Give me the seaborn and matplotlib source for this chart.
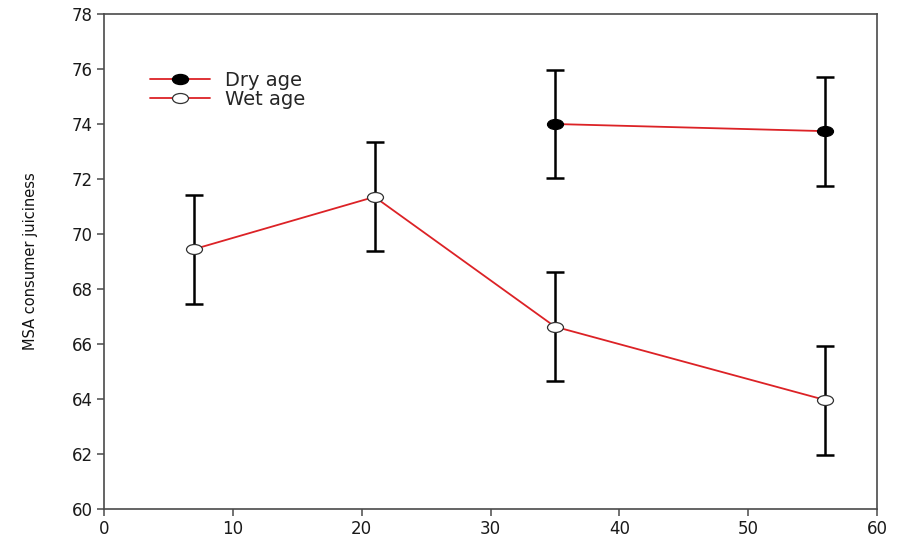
import numpy as np
import pandas as pd
import matplotlib
matplotlib.use("Agg")
import matplotlib.pyplot as plt
from matplotlib.lines import Line2D
from matplotlib.path import Path
from matplotlib.transforms import Affine2D
import seaborn as sns

# Ageing time (days) and MSA consumer juiciness scores (mean and SE)
wet_days = [7, 21, 35, 56]
wet_mean = [69.45, 71.35, 66.63, 63.96]
wet_err = [1.98, 1.98, 1.99, 1.98]

dry_days = [35, 56]
dry_mean = [74.0, 73.74]
dry_err = [1.98, 1.98]

x_ticks = [0, 10, 20, 30, 40, 50, 60]
y_ticks = [60, 62, 64, 66, 68, 70, 72, 74, 76, 78]

wet = pd.DataFrame({"day": wet_days, "juiciness": wet_mean, "se": wet_err})
dry = pd.DataFrame({"day": dry_days, "juiciness": dry_mean, "se": dry_err})

sns.set_theme(style="ticks")
plt.rcParams["font.family"] = ["DejaVu Sans"]

line_red = "#dc2226"
spine_col = "#4a4a4a"
msize = 11.5

# wide oval symbol
oval = Path.unit_circle().transformed(Affine2D().scale(1.6, 1.0))

fig = plt.figure(figsize=(9.03, 5.39), dpi=100)
ax = fig.add_axes([0.1152, 0.0557, 0.856, 0.9183])

# error bars under the markers
for d in (wet, dry):
    ax.errorbar(d["day"], d["juiciness"], yerr=d["se"], fmt="none",
                ecolor="black", elinewidth=1.8, capsize=6.5, capthick=1.8,
                zorder=2)

sns.lineplot(data=wet, x="day", y="juiciness", ax=ax, color=line_red,
             linewidth=1.3, marker=oval, markersize=msize,
             markerfacecolor="white", markeredgecolor="#333333",
             markeredgewidth=0.9, zorder=3)
sns.lineplot(data=dry, x="day", y="juiciness", ax=ax, color=line_red,
             linewidth=1.3, marker=oval, markersize=msize,
             markerfacecolor="black", markeredgecolor="black",
             markeredgewidth=0.9, zorder=3)

ax.set_xlim(0, 60)
ax.set_ylim(60, 78)
ax.set_xticks(x_ticks)
ax.set_yticks(y_ticks)
ax.set_xlabel("")
ax.set_ylabel("MSA consumer juiciness", fontsize=10.5, color="#111111")
ax.yaxis.set_label_coords(-0.085, 0.5)

ax.tick_params(axis="both", direction="out", length=5, width=1.1,
               color=spine_col, labelsize=12, labelcolor="#1a1a1a", pad=3)
for s in ax.spines.values():
    s.set_visible(True)
    s.set_color(spine_col)
    s.set_linewidth(1.2)

handles = [
    Line2D([], [], color=line_red, linewidth=1.3, marker=oval,
           markersize=msize, markerfacecolor="black",
           markeredgecolor="black"),
    Line2D([], [], color=line_red, linewidth=1.3, marker=oval,
           markersize=msize, markerfacecolor="white",
           markeredgecolor="#333333", markeredgewidth=0.9),
]
ax.legend(handles, ["Dry age", "Wet age"], loc="upper left",
          bbox_to_anchor=(0.049, 0.901), frameon=False, fontsize=14,
          handlelength=3.1, handletextpad=0.75, labelspacing=0.0,
          borderaxespad=0.0)

fig.savefig("out.png", dpi=100)
